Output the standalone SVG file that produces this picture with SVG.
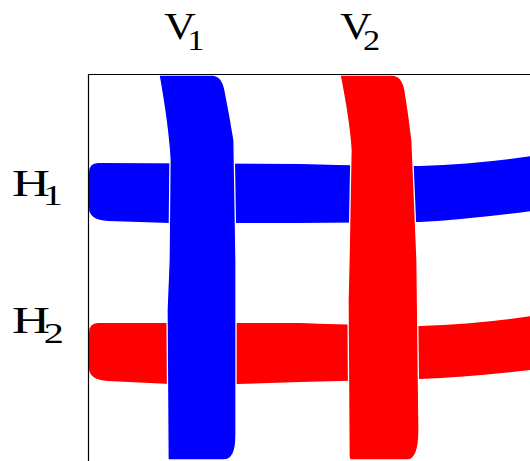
<svg xmlns="http://www.w3.org/2000/svg" width="530" height="461" viewBox="0 0 530 461">
<style>
.lbl{font-family:"Liberation Serif","Times New Roman",serif;fill:#000;font-size:38px}
.sub{font-size:30px}
.hsub{font-size:29px}
.blue{fill:#0000ff}
.red{fill:#ff0000}
.over{stroke:#fff;stroke-width:1.3}
</style>
<rect width="530" height="461" fill="#fff"/>
<g id="H1">
<path class="blue" d="M98,163 L300,164 Q380,166 420,166 Q480,164 531,156 L531,211 Q470,219 420,222 L300,223 L170,223 L108,221 Q89,220 89,208 L89,173 Q89,163 98,163 Z"/>
</g>
<g id="H2">
<path class="red" d="M98,323 L300,323 Q380,326 420,326 Q480,324 531,316 L531,370 Q470,377 420,379 L300,382 L237,384 L170,384 L108,381 Q89,380 89,368 L89,333 Q89,323 98,323 Z"/>
</g>
<g id="V1">
<path class="blue over" d="M159,75 L212,75 Q222,75 225,90 Q230,115 234,140 L236,260 L236,435 Q236,460 224,460 L168,460 L167,310 L169,260 L170,160 Q168,125 159,75 Z"/>
</g>
<g id="V2">
<path class="red over" d="M340,75 L392,75 Q402,75 405,90 Q409,115 412,140 L417,260 L419,430 Q419,460 407,460 L351,460 Q349,460 349,455 L348,300 L349,260 L351,150 Q349,120 340,75 Z"/>
</g>
<g id="frame">
<path d="M88.5,461 L88.5,74.5 L530,74.5" fill="none" stroke="#000" stroke-width="1.2"/>
</g>
<g id="labels">
<text class="lbl" transform="translate(164.3,39) scale(1.145,1)">V<tspan class="sub" dx="-7.5" dy="11">1</tspan></text>
<text class="lbl" transform="translate(340.3,39) scale(1.145,1)">V<tspan class="sub" dx="-7.7" dy="11">2</tspan></text>
<text class="lbl" transform="translate(12,196) scale(1.385,1)">H<tspan class="hsub" dx="-5.2" dy="9">1</tspan></text>
<text class="lbl" transform="translate(12,333) scale(1.385,1)">H<tspan class="hsub" dx="-4.6" dy="10">2</tspan></text>
</g>
</svg>
